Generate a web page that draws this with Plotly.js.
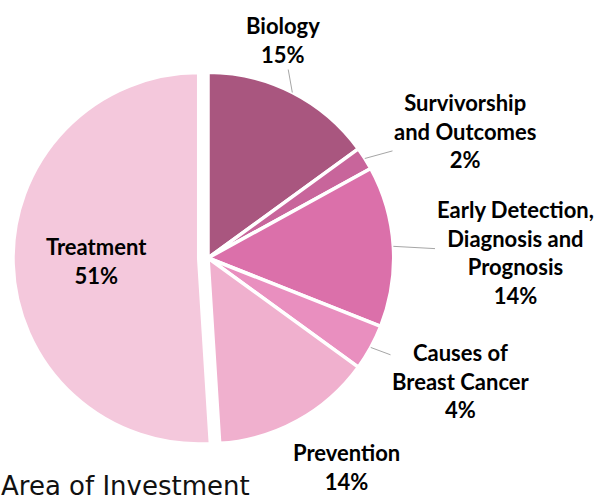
<!DOCTYPE html>
<html>
<head>
<meta charset="utf-8">
<script src="https://cdn.plot.ly/plotly-3.0.1.min.js"></script>
<style>html,body{margin:0;padding:0;background:#fff;}#chart{width:599px;height:502px;}</style>
</head>
<body>
<div id="chart"></div>
<script>
// ---- data ----
const categories = ["Biology", "Survivorship and Outcomes", "Early Detection, Diagnosis and Prognosis", "Causes of Breast Cancer", "Prevention", "Treatment"];
const displayLabels = ["Biology", "Survivorship<br>and Outcomes", "Early Detection,<br>Diagnosis and<br>Prognosis", "Causes of<br>Breast Cancer", "Prevention", "Treatment"];
const shares = [15, 2, 14, 4, 14, 51];
const sliceColors = ["#A9567F", "#C8659B", "#DB70AA", "#E98FBF", "#F0B0CE", "#F4C8DC"];
const pulls = [0, 0, 0, 0, 0, 0.05];
const chartTitle = "Area of Investment";

// ---- layout helpers (pixel positions of label blocks) ----
const W = 599, H = 502;
const pieCenter = [208, 258];
const pieDomainHalf = 195;
const labelCenters = [[283, 40], [465, 131], [515, 253], [461, 381], [346, 467], [96, 261]];
const showLeader = [true, true, true, true, false, false];
const labelFont = {family: "Lato, 'Noto Sans', sans-serif", size: 22, color: "#000"};

const maxPull = Math.max(...pulls);
const pieR = pieDomainHalf / (1 + maxPull);
const total = shares.reduce((a, b) => a + b, 0);

const annotations = [];
let cum = 0;
shares.forEach((v, i) => {
  const mid = (cum + v / 2) / total * 2 * Math.PI;
  cum += v;
  const ex = pieCenter[0] + pieR * Math.sin(mid);
  const ey = pieCenter[1] - pieR * Math.cos(mid);
  const [lx, ly] = labelCenters[i];
  const txt = "<b>" + displayLabels[i] + "<br>" + v + "%</b>";
  if (showLeader[i]) {
    annotations.push({
      x: ex / W, y: 1 - ey / H, xref: "paper", yref: "paper",
      ax: lx - ex, ay: ly - ey, axref: "pixel", ayref: "pixel",
      text: txt, showarrow: true, arrowhead: 0, arrowwidth: 1, arrowcolor: "#A6A6A6",
      standoff: 0, startstandoff: 0,
      font: labelFont
    });
  } else {
    annotations.push({
      x: lx / W, y: 1 - ly / H, xref: "paper", yref: "paper",
      text: txt, showarrow: false, xanchor: "center", yanchor: "middle",
      font: labelFont
    });
  }
});

// chart title, bottom-left
annotations.push({
  text: chartTitle, showarrow: false,
  xref: "paper", yref: "paper", x: 0, xanchor: "left", y: 0, yanchor: "bottom",
  borderpad: 0,
  font: {family: "'DejaVu Sans', sans-serif", size: 26, color: "#111"}
});

const trace = {
  type: "pie",
  labels: categories,
  values: shares,
  sort: false,
  direction: "clockwise",
  rotation: 0,
  pull: pulls,
  marker: {colors: sliceColors, line: {color: "#FFFFFF", width: 3.5}},
  textinfo: "none",
  hoverinfo: "label+percent",
  showlegend: false,
  domain: {
    x: [(pieCenter[0] - pieDomainHalf) / W, (pieCenter[0] + pieDomainHalf) / W],
    y: [1 - (pieCenter[1] + pieDomainHalf) / H, 1 - (pieCenter[1] - pieDomainHalf) / H]
  }
};

const layout = {
  width: W, height: H,
  margin: {l: 0, r: 0, t: 0, b: 0},
  paper_bgcolor: "#FFFFFF",
  showlegend: false,
  annotations: annotations
};

Plotly.newPlot("chart", [trace], layout, {displayModeBar: false, staticPlot: true});
</script>
</body>
</html>
